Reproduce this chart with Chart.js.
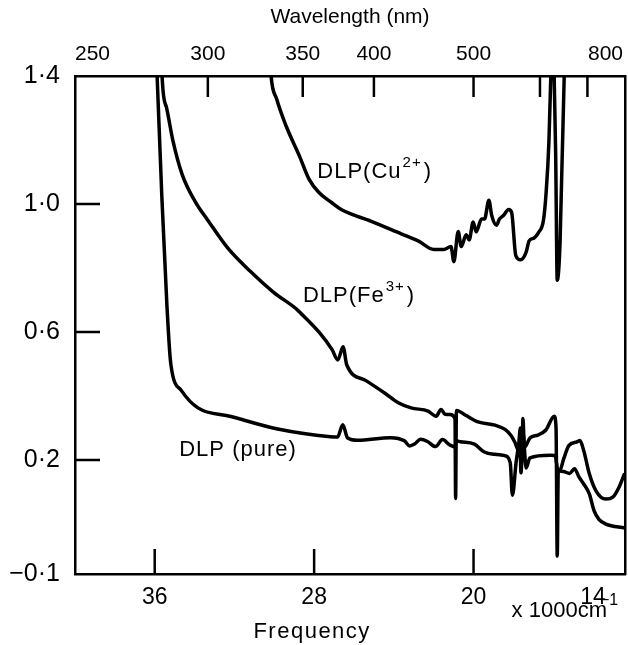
<!DOCTYPE html>
<html>
<head>
<meta charset="utf-8">
<script src="https://cdn.jsdelivr.net/npm/chart.js@4.4.1/dist/chart.umd.min.js"></script>
<style>
  html, body { margin: 0; padding: 0; background: #fff; }
</style>
</head>
<body>
<canvas id="spectra" width="628" height="645"></canvas>
<script>
// frequency in 1000 cm-1 (left to right), absorbance
const pureFreq = [35.93, 35.88, 35.64, 35.39, 35.19, 34.66, 33.83, 32.18, 29.83, 27.18, 26.83, 26.56, 26.32, 25.82, 24.17,
  23.47, 23.21, 22.96, 22.66, 22.31, 21.91, 21.56, 21.21, 20.96, 20.93, 20.87, 20.66, 19.96, 19.46, 18.96, 18.46,
  18.16, 18.05, 17.85, 17.67, 17.62, 17.52, 17.36, 17.17, 16.16, 15.91, 15.77, 15.48, 15.18, 14.93, 14.72,
  14.48, 14.19, 13.95, 13.71, 13.36, 12.4];
const pureAbs = [1.50, 1.40, 1.02, 0.686, 0.499, 0.417, 0.363, 0.336, 0.297, 0.273, 0.272, 0.31, 0.269, 0.262, 0.270,
  0.260, 0.244, 0.250, 0.265, 0.258, 0.242, 0.264, 0.248, 0.241, 0.24, 0.26, 0.257, 0.250, 0.225, 0.218, 0.214,
  0.192, 0.09, 0.20, 0.254, 0.160, 0.285, 0.175, 0.207, 0.215, 0.214, 0.17, 0.164, 0.158, 0.173, 0.148,
  0.126, 0.094, 0.041, 0.015, 0.000, -0.012];

const feFreq = [35.66, 35.63, 35.41, 35.09, 34.62, 33.99, 33.31, 32.33, 31.19, 30.05, 28.87, 28.72, 27.73, 27.10, 26.81,
  26.55, 26.36, 25.42, 24.43, 23.78, 23.13, 22.28, 21.88, 21.63, 21.43, 21.18, 20.93, 20.90, 20.86, 20.42, 19.77, 18.92,
  18.42, 18.12, 17.92, 17.77, 17.65, 17.58, 17.52, 17.45, 17.37, 17.17, 16.77, 16.37, 15.95, 15.86, 15.80, 15.75, 15.69,
  15.47, 15.22, 14.81, 14.66, 14.47, 14.19, 13.85, 13.36, 13.01, 12.70, 12.44];
const feAbs = [1.50, 1.40, 1.302, 1.199, 1.092, 1.010, 0.947, 0.862, 0.789, 0.725, 0.671, 0.662, 0.598, 0.545, 0.513,
  0.554, 0.497, 0.449, 0.408, 0.379, 0.363, 0.353, 0.337, 0.358, 0.343, 0.342, 0.330, 0.08, 0.355, 0.341, 0.319, 0.309,
  0.296, 0.277, 0.255, 0.233, 0.30, 0.20, 0.33, 0.24, 0.245, 0.269, 0.278, 0.294, 0.337, 0.30, -0.10, 0.16, 0.165,
  0.205, 0.245, 0.257, 0.261, 0.229, 0.157, 0.103, 0.078, 0.084, 0.115, 0.155];

const cuFreq = [30.25, 30.16, 29.88, 29.40, 28.73, 28.25, 27.76, 27.11, 26.62, 25.13, 23.63, 22.78, 21.99, 21.49, 21.13,
  20.99, 20.77, 20.62, 20.37, 20.22, 20.02, 19.87, 19.60, 19.45, 19.23, 19.09, 18.85, 18.70, 18.49, 18.24, 18.09, 17.88,
  17.63, 17.37, 17.21, 16.96, 16.75, 16.49, 16.36, 16.22, 16.10, 16.04, 15.97, 15.88, 15.80, 15.66, 15.45, 15.40];
const cuAbs = [1.50, 1.40, 1.328, 1.243, 1.149, 1.077, 1.036, 1.004, 0.982, 0.946, 0.907, 0.885, 0.858, 0.858, 0.867,
  0.820, 0.914, 0.867, 0.904, 0.888, 0.944, 0.913, 0.953, 0.953, 1.012, 0.965, 0.934, 0.953, 0.965, 0.983, 0.974, 0.839,
  0.826, 0.848, 0.885, 0.894, 0.910, 0.950, 1.034, 1.191, 1.45, 1.60, 1.45, 1.159, 0.762, 0.878, 1.40, 1.60];

// axes
const xMin = 12.4, xMax = 40;
const yMin = -0.156, yMax = 1.4;
const bottomLabels = [14, 20, 28, 36];
const bottomTickMarks = [20, 28, 36];
const topLabelNm = [800, 500, 400, 350, 300, 250];
const topTickNm = [700, 600, 500, 400, 350, 300];
const yTickValues = [yMin, 0.2, 0.6, 1.0, 1.4];
const yTickLabels = ['\u22120\u00b71', '0\u00b72', '0\u00b76', '1\u00b70', '1\u00b74'];
const yTickMarks = [0.2, 0.6, 1.0];

const curveNotes = [
  { text: 'DLP(Cu', sup: '2+', tail: ')', x: 27.84, y: 1.10 },
  { text: 'DLP(Fe', sup: '3+', tail: ')', x: 28.56, y: 0.714 },
  { text: 'DLP (pure)', sup: '', tail: '', x: 34.77, y: 0.233 }
];

const FONT = "'Liberation Sans', Arial, sans-serif";
Chart.defaults.font.family = FONT;
Chart.defaults.color = '#000';

const toPoints = (xs, ys) => xs.map((x, i) => ({ x: x, y: ys[i] }));
const nmToFreq = nm => 1e4 / nm;

// tick marks pointing into the plot, like the original
const innerTicks = {
  id: 'innerTicks',
  afterDatasetsDraw(chart) {
    const { ctx, chartArea: a, scales } = chart;
    ctx.save();
    ctx.strokeStyle = '#000';
    ctx.lineWidth = 2.5;
    ctx.beginPath();
    bottomTickMarks.forEach(v => {
      const px = scales.x.getPixelForValue(v);
      ctx.moveTo(px, a.bottom); ctx.lineTo(px, a.bottom - 25);
    });
    topTickNm.forEach(nm => {
      const px = scales.x2.getPixelForValue(nmToFreq(nm));
      ctx.moveTo(px, a.top); ctx.lineTo(px, a.top + 21);
    });
    yTickMarks.forEach(v => {
      const py = scales.y.getPixelForValue(v);
      ctx.moveTo(a.left, py); ctx.lineTo(a.left + 25, py);
    });
    ctx.stroke();
    ctx.restore();
  }
};

// curve names, x-axis title and unit
const notes = {
  id: 'notes',
  afterDraw(chart) {
    const { ctx, chartArea: a, scales } = chart;
    ctx.save();
    ctx.fillStyle = '#000';
    ctx.textBaseline = 'middle';
    ctx.textAlign = 'left';
    if ('letterSpacing' in ctx) ctx.letterSpacing = '1px';
    curveNotes.forEach(n => {
      let px = scales.x.getPixelForValue(n.x);
      const py = scales.y.getPixelForValue(n.y);
      ctx.font = '22px ' + FONT;
      ctx.fillText(n.text, px, py);
      px += ctx.measureText(n.text).width;
      if (n.sup) {
        ctx.font = '15px ' + FONT;
        ctx.fillText(n.sup, px + 1, py - 9);
        px += ctx.measureText(n.sup).width + 3;
        ctx.font = '22px ' + FONT;
        ctx.fillText(n.tail, px, py);
      }
    });

    ctx.textAlign = 'center';
    ctx.font = '22px ' + FONT;
    if ('letterSpacing' in ctx) ctx.letterSpacing = '1.5px';
    ctx.fillText('Frequency', scales.x.getPixelForValue(28) - 2, a.bottom + 58);

    ctx.textAlign = 'right';
    ctx.font = '22px ' + FONT;
    if ('letterSpacing' in ctx) ctx.letterSpacing = '0px';
    ctx.fillText('x 1000cm', a.right - 18, a.bottom + 37);
    ctx.textAlign = 'left';
    ctx.font = '16px ' + FONT;
    ctx.fillText('\u22121', a.right - 25, a.bottom + 27);
    ctx.restore();
  }
};

const lineStyle = {
  borderColor: '#000',
  borderWidth: 3.5,
  pointRadius: 0,
  borderJoinStyle: 'round',
  borderCapStyle: 'round',
  cubicInterpolationMode: 'monotone',
  fill: false
};

new Chart(document.getElementById('spectra').getContext('2d'), {
  type: 'line',
  data: {
    datasets: [
      Object.assign({ label: 'DLP(Cu2+)', data: toPoints(cuFreq, cuAbs) }, lineStyle),
      Object.assign({ label: 'DLP(Fe3+)', data: toPoints(feFreq, feAbs) }, lineStyle),
      Object.assign({ label: 'DLP (pure)', data: toPoints(pureFreq, pureAbs) }, lineStyle)
    ]
  },
  options: {
    responsive: false,
    animation: false,
    layout: { padding: 0 },
    plugins: { legend: { display: false }, tooltip: { enabled: false } },
    scales: {
      x: {
        type: 'linear', position: 'bottom', min: xMin, max: xMax, reverse: true,
        afterBuildTicks: s => { s.ticks = bottomLabels.map(v => ({ value: v })); },
        afterFit: s => { s.height = 71; },
        ticks: { autoSkip: false, maxRotation: 0, padding: 10, font: { size: 23 }, callback: v => String(v) },
        grid: { drawOnChartArea: false, drawTicks: false },
        border: { color: '#000', width: 2.5 }
      },
      x2: {
        type: 'linear', position: 'top', min: xMin, max: xMax, reverse: true,
        afterBuildTicks: s => { s.ticks = topLabelNm.map(nm => ({ value: nmToFreq(nm) })); },
        afterFit: s => { s.height = 76; },
        ticks: { autoSkip: false, maxRotation: 0, align: 'inner', padding: 9, font: { size: 21 },
          callback: v => String(Math.round(1e4 / v)) },
        grid: { drawOnChartArea: false, drawTicks: false },
        border: { color: '#000', width: 2.5 },
        title: { display: true, text: 'Wavelength (nm)', font: { size: 21 }, padding: { top: 5, bottom: 0 } }
      },
      y: {
        type: 'linear', position: 'left', min: yMin, max: yMax,
        afterBuildTicks: s => { s.ticks = yTickValues.map(v => ({ value: v })); },
        afterFit: s => { s.width = 75; },
        ticks: { autoSkip: false, padding: 15, font: { size: 25 },
          callback: (v, i) => yTickLabels[i] },
        grid: { drawOnChartArea: false, drawTicks: false },
        border: { color: '#000', width: 2.5 }
      },
      y2: {
        type: 'linear', position: 'right', min: yMin, max: yMax,
        afterFit: s => { s.width = 3; },
        ticks: { display: false },
        grid: { drawOnChartArea: false, drawTicks: false },
        border: { color: '#000', width: 2.5 }
      }
    }
  },
  plugins: [innerTicks, notes]
});
</script>
</body>
</html>
